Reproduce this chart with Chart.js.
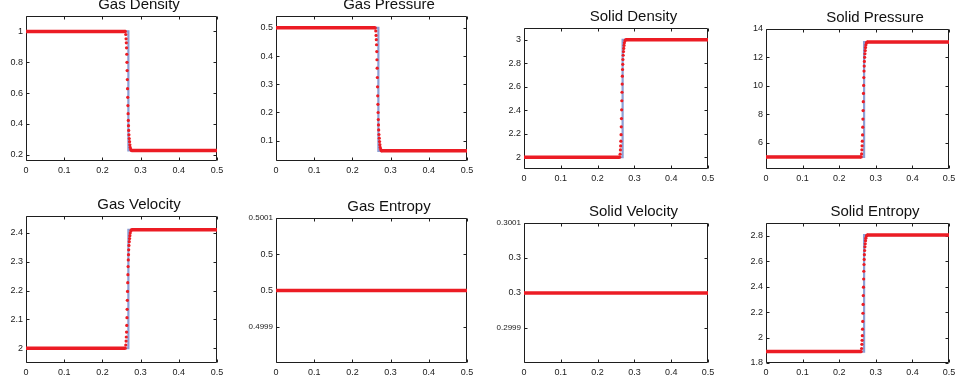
<!DOCTYPE html>
<html lang="en">
<head>
<meta charset="UTF-8">
<title>Gas / Solid Riemann Problem</title>
<script src="https://cdn.jsdelivr.net/npm/chart.js@4"></script>
<style>
    body {
        margin: 0;
        background: #fff;
        width: 958px;
        height: 385px;
        overflow: hidden;
        position: relative;
    }
    .panel { position: absolute; }
</style>
</head>
<body>
<script>
// x positions shared by every panel
var xTicks = [0, 0.1, 0.2, 0.3, 0.4, 0.5];
// numerical mesh points: left plateau end, the points across the shock, right plateau start
var shockX = [0, 0.2600, 0.2612, 0.2620, 0.2626, 0.2632, 0.2638, 0.2643, 0.2648, 0.2653, 0.2658, 0.2663,
              0.2668, 0.2673, 0.2678, 0.2683, 0.2688, 0.2695, 0.2703, 0.2711, 0.2719, 0.2728, 0.2743, 0.2758, 0.5];
var flatX = [0, 0.5];
var exactX = [0, 0.268, 0.268, 0.5];

// Gas Density
var gasDensityNum = [1, 1, 0.980, 0.952, 0.926, 0.894, 0.852, 0.800, 0.746, 0.688, 0.629, 0.573, 0.519,
                     0.467, 0.423, 0.389, 0.358, 0.330, 0.306, 0.285, 0.265, 0.248, 0.235, 0.228, 0.228];
var gasDensityExact = [1, 1, 0.228, 0.228];
var gasDensityTicks = [0.2, 0.4, 0.6, 0.8, 1];
var gasDensityLabels = ['0.2', '0.4', '0.6', '0.8', '1'];
var gasDensityRange = [0.16, 1.1];

// Gas Pressure
var gasPressureNum = [0.5, 0.5, 0.489, 0.473, 0.458, 0.440, 0.416, 0.387, 0.357, 0.324, 0.291, 0.259, 0.229,
                      0.200, 0.175, 0.156, 0.138, 0.122, 0.109, 0.097, 0.086, 0.076, 0.069, 0.064, 0.064];
var gasPressureExact = [0.5, 0.5, 0.064, 0.064];
var gasPressureTicks = [0.1, 0.2, 0.3, 0.4, 0.5];
var gasPressureLabels = ['0.1', '0.2', '0.3', '0.4', '0.5'];
var gasPressureRange = [0.028, 0.542];

// Solid Density
var solidDensityNum = [2, 2, 2.026, 2.062, 2.096, 2.137, 2.192, 2.259, 2.329, 2.404, 2.481, 2.553, 2.623,
                       2.690, 2.747, 2.791, 2.832, 2.868, 2.899, 2.926, 2.952, 2.974, 2.991, 3, 3];
var solidDensityExact = [2, 2, 3, 3];
var solidDensityTicks = [2, 2.2, 2.4, 2.6, 2.8, 3];
var solidDensityLabels = ['2', '2.2', '2.4', '2.6', '2.8', '3'];
var solidDensityRange = [1.9, 3.1];

// Solid Pressure
var solidPressureNum = [5, 5, 5.21, 5.50, 5.78, 6.11, 6.55, 7.09, 7.66, 8.26, 8.89, 9.47, 10.03,
                        10.58, 11.04, 11.39, 11.72, 12.01, 12.26, 12.48, 12.69, 12.87, 13.01, 13.08, 13.08];
var solidPressureExact = [5, 5, 13.08, 13.08];
var solidPressureTicks = [6, 8, 10, 12, 14];
var solidPressureLabels = ['6', '8', '10', '12', '14'];
var solidPressureRange = [4.15, 14];

// Gas Velocity
var gasVelocityNum = [2, 2, 2.011, 2.025, 2.039, 2.056, 2.079, 2.106, 2.135, 2.166, 2.197, 2.227, 2.255,
                      2.283, 2.306, 2.324, 2.341, 2.356, 2.369, 2.380, 2.390, 2.399, 2.406, 2.41, 2.41];
var gasVelocityExact = [2, 2, 2.41, 2.41];
var gasVelocityTicks = [2, 2.1, 2.2, 2.3, 2.4];
var gasVelocityLabels = ['2', '2.1', '2.2', '2.3', '2.4'];
var gasVelocityRange = [1.949, 2.458];

// Gas Entropy
var gasEntropyNum = [0.5, 0.5];
var gasEntropyExact = [0.5, 0.5, 0.5, 0.5];
var gasEntropyTicks = [0.49995, 0.5, 0.50005, 0.5001];
var gasEntropyLabels = ['0.4999', '0.5', '0.5', '0.5001'];
var gasEntropyRange = [0.4999, 0.5001];

// Solid Velocity
var solidVelocityNum = [0.3, 0.3];
var solidVelocityExact = [0.3, 0.3, 0.3, 0.3];
var solidVelocityTicks = [0.29995, 0.3, 0.30005, 0.3001];
var solidVelocityLabels = ['0.2999', '0.3', '0.3', '0.3001'];
var solidVelocityRange = [0.2999, 0.3001];

// Solid Entropy
var solidEntropyNum = [1.89, 1.89, 1.914, 1.947, 1.978, 2.015, 2.066, 2.127, 2.191, 2.260, 2.330, 2.396, 2.460,
                       2.521, 2.574, 2.614, 2.651, 2.684, 2.713, 2.737, 2.761, 2.781, 2.797, 2.805, 2.805];
var solidEntropyExact = [1.89, 1.89, 2.805, 2.805];
var solidEntropyTicks = [1.8, 2, 2.2, 2.4, 2.6, 2.8];
var solidEntropyLabels = ['1.8', '2', '2.2', '2.4', '2.6', '2.8'];
var solidEntropyRange = [1.8, 2.9];

var panels = [
    { title: 'Gas Density',    numX: shockX, num: gasDensityNum,    exact: gasDensityExact,    ticks: gasDensityTicks,    labels: gasDensityLabels,    range: gasDensityRange },
    { title: 'Gas Pressure',   numX: shockX, num: gasPressureNum,   exact: gasPressureExact,   ticks: gasPressureTicks,   labels: gasPressureLabels,   range: gasPressureRange },
    { title: 'Solid Density',  numX: shockX, num: solidDensityNum,  exact: solidDensityExact,  ticks: solidDensityTicks,  labels: solidDensityLabels,  range: solidDensityRange },
    { title: 'Solid Pressure', numX: shockX, num: solidPressureNum, exact: solidPressureExact, ticks: solidPressureTicks, labels: solidPressureLabels, range: solidPressureRange },
    { title: 'Gas Velocity',   numX: shockX, num: gasVelocityNum,   exact: gasVelocityExact,   ticks: gasVelocityTicks,   labels: gasVelocityLabels,   range: gasVelocityRange },
    { title: 'Gas Entropy',    numX: flatX,  num: gasEntropyNum,    exact: gasEntropyExact,    ticks: gasEntropyTicks,    labels: gasEntropyLabels,    range: gasEntropyRange },
    { title: 'Solid Velocity', numX: flatX,  num: solidVelocityNum, exact: solidVelocityExact, ticks: solidVelocityTicks, labels: solidVelocityLabels, range: solidVelocityRange },
    { title: 'Solid Entropy',  numX: shockX, num: solidEntropyNum,  exact: solidEntropyExact,  ticks: solidEntropyTicks,  labels: solidEntropyLabels,  range: solidEntropyRange }
];

// plot-area rectangles on the page: left, top, right, bottom
var plotBoxes = [
    [26, 16, 217, 161], [276, 16, 467, 161], [524, 28, 708, 169], [766, 29, 949, 169],
    [26, 216, 217, 363], [276, 218, 467, 363], [524, 223, 708, 363], [766, 223, 949, 363]
];

var FONT = "'Liberation Sans', Arial, Helvetica, sans-serif";
var RED = '#ec1c24';
var BLUE = '#8d9fd5';
var AXIS_W = 30, RIGHT_W = 65, TITLE_H = 24, XAXIS_H = 18;

// black box with inward tick marks on all four sides (matlab look)
var boxPlugin = {
    id: 'box',
    beforeDatasetsDraw: function(chart) {
        var ctx = chart.ctx, a = chart.chartArea;
        var xs = chart.scales.x, ys = chart.scales.y;
        var l = Math.round(a.left) + 0.5, r = Math.round(a.right) - 0.5;
        var t = Math.round(a.top) + 0.5, b = Math.round(a.bottom) - 0.5;
        ctx.save();
        ctx.strokeStyle = '#1e1e1e';
        ctx.lineWidth = 1;
        ctx.beginPath();
        ctx.rect(l, t, r - l, b - t);
        xs.ticks.forEach(function(tk) {
            var px = Math.round(xs.getPixelForValue(tk.value)) + 0.5;
            ctx.moveTo(px, b); ctx.lineTo(px, b - 3);
            ctx.moveTo(px, t); ctx.lineTo(px, t + 3);
        });
        ys.ticks.forEach(function(tk) {
            var py = Math.round(ys.getPixelForValue(tk.value)) + 0.5;
            ctx.moveTo(l, py); ctx.lineTo(l + 3, py);
            ctx.moveTo(r, py); ctx.lineTo(r - 3, py);
        });
        ctx.stroke();
        ctx.restore();
    }
};

function toPoints(xs, ys) {
    return xs.map(function(x, i) { return { x: x, y: ys[i] }; });
}

panels.forEach(function(p, k) {
    var box = plotBoxes[k];
    var w = AXIS_W + (box[2] - box[0]) + RIGHT_W;
    var h = TITLE_H + (box[3] - box[1]) + XAXIS_H;
    var div = document.createElement('div');
    div.className = 'panel';
    div.style.left = (box[0] - AXIS_W) + 'px';
    div.style.top = (box[1] - TITLE_H) + 'px';
    var canvas = document.createElement('canvas');
    canvas.width = w;
    canvas.height = h;
    div.appendChild(canvas);
    document.body.appendChild(div);

    new Chart(canvas.getContext('2d'), {
        type: 'scatter',
        data: {
            datasets: [{
                label: 'numerical',
                data: toPoints(p.numX, p.num),
                showLine: true,
                borderColor: RED,
                backgroundColor: RED,
                borderWidth: 3.5,
                pointRadius: 1.6,
                pointBorderWidth: 0,
                segment: {
                    // only the flat stretches are solid; the shock is a row of dots
                    borderColor: function(c) { return c.p0.parsed.y === c.p1.parsed.y ? RED : 'rgba(0,0,0,0)'; }
                }
            }, {
                label: 'exact',
                data: toPoints(exactX, p.exact),
                showLine: true,
                borderColor: BLUE,
                borderWidth: 2.2,
                pointRadius: 0
            }]
        },
        options: {
            responsive: false,
            animation: false,
            devicePixelRatio: 1,
            layout: { padding: 0 },
            plugins: {
                legend: { display: false },
                tooltip: { enabled: false },
                title: {
                    display: true,
                    text: p.title,
                    color: '#111',
                    font: { family: FONT, size: 15, weight: 'normal', lineHeight: '16px' },
                    padding: { top: 5, bottom: 3 }
                }
            },
            scales: {
                x: {
                    type: 'linear',
                    min: 0,
                    max: 0.5,
                    grid: { display: false, drawTicks: false },
                    border: { display: false },
                    afterBuildTicks: function(s) { s.ticks = xTicks.map(function(v) { return { value: v }; }); },
                    afterFit: function(s) { s.height = XAXIS_H; },
                    ticks: {
                        autoSkip: false,
                        maxRotation: 0,
                        padding: 4,
                        color: '#1a1a1a',
                        font: { family: FONT, size: 9 },
                        callback: function(v) { return String(v); }
                    }
                },
                y: {
                    type: 'linear',
                    min: p.range[0],
                    max: p.range[1],
                    grid: { display: false, drawTicks: false },
                    border: { display: false },
                    afterBuildTicks: function(s) { s.ticks = p.ticks.map(function(v) { return { value: v }; }); },
                    afterFit: function(s) { s.width = AXIS_W; },
                    ticks: {
                        autoSkip: false,
                        padding: 3,
                        color: '#1a1a1a',
                        font: function(c) {
                            var lab = p.labels[c.index] || '';
                            return { family: FONT, size: lab.length > 4 ? 8 : 9 };
                        },
                        callback: function(v, i) { return p.labels[i]; }
                    }
                },
                yr: {
                    type: 'linear',
                    position: 'right',
                    display: true,
                    grid: { display: false, drawTicks: false },
                    border: { display: false },
                    ticks: { display: false },
                    afterFit: function(s) { s.width = RIGHT_W; }
                }
            }
        },
        plugins: [boxPlugin]
    });
});
</script>
</body>
</html>
